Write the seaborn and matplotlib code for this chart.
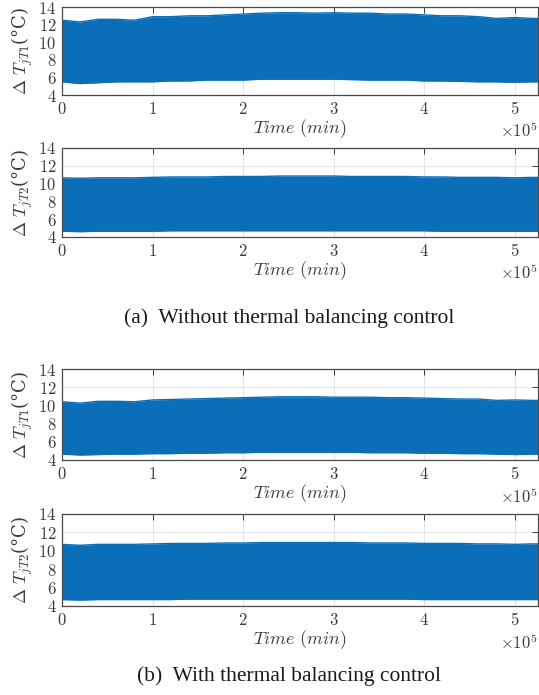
import numpy as np
import pandas as pd
import seaborn as sns
import matplotlib
matplotlib.use("Agg")
import matplotlib.pyplot as plt
from matplotlib.ticker import FuncFormatter, FixedLocator

# Time axis of the envelope samples (units of 1e5 minutes)
time_1e5 = [0.0, 0.2, 0.4, 0.6, 0.8, 1.0, 1.2, 1.4, 1.6, 1.8, 2.0, 2.2, 2.4, 2.6,
            2.8, 3.0, 3.2, 3.4, 3.6, 3.8, 4.0, 4.2, 4.4, 4.6, 4.8, 5.0, 5.2, 5.256]

# (a) without thermal balancing control
t1_a_upper = [12.5, 12.3, 12.6, 12.6, 12.5, 12.9, 12.9, 13.0, 13.0, 13.1, 13.2, 13.3, 13.35, 13.35,
              13.3, 13.35, 13.3, 13.3, 13.2, 13.2, 13.1, 13.0, 13.0, 12.9, 12.7, 12.8, 12.7, 12.7]
t1_a_lower = [5.5, 5.3, 5.4, 5.5, 5.5, 5.5, 5.6, 5.6, 5.7, 5.7, 5.7, 5.8, 5.8, 5.8,
              5.8, 5.8, 5.75, 5.7, 5.7, 5.7, 5.6, 5.6, 5.55, 5.5, 5.5, 5.45, 5.5, 5.5]
t2_a_upper = [10.65, 10.6, 10.65, 10.65, 10.65, 10.7, 10.75, 10.75, 10.75, 10.8, 10.8, 10.8, 10.85, 10.85,
              10.85, 10.85, 10.8, 10.8, 10.8, 10.8, 10.75, 10.75, 10.7, 10.7, 10.7, 10.65, 10.7, 10.7]
t2_a_lower = [4.65, 4.6, 4.65, 4.65, 4.65, 4.65, 4.7, 4.7, 4.7, 4.7, 4.7, 4.7, 4.7, 4.7,
              4.7, 4.7, 4.7, 4.7, 4.7, 4.7, 4.7, 4.65, 4.65, 4.65, 4.65, 4.65, 4.65, 4.65]

# (b) with thermal balancing control
t1_b_upper = [10.4, 10.25, 10.45, 10.45, 10.4, 10.6, 10.65, 10.7, 10.75, 10.8, 10.85, 10.9, 10.95, 10.95,
              10.95, 10.9, 10.9, 10.9, 10.85, 10.85, 10.8, 10.75, 10.7, 10.7, 10.55, 10.6, 10.55, 10.55]
t1_b_lower = [4.65, 4.55, 4.6, 4.65, 4.65, 4.7, 4.7, 4.75, 4.75, 4.8, 4.8, 4.85, 4.85, 4.85,
              4.85, 4.85, 4.85, 4.8, 4.8, 4.8, 4.75, 4.75, 4.7, 4.7, 4.65, 4.6, 4.65, 4.65]
t2_b_upper = [10.7, 10.6, 10.7, 10.7, 10.7, 10.75, 10.8, 10.8, 10.8, 10.85, 10.85, 10.9, 10.9, 10.9,
              10.9, 10.9, 10.9, 10.85, 10.85, 10.85, 10.8, 10.8, 10.8, 10.75, 10.75, 10.7, 10.75, 10.75]
t2_b_lower = [4.7, 4.65, 4.7, 4.7, 4.7, 4.7, 4.7, 4.75, 4.75, 4.75, 4.75, 4.75, 4.75, 4.75,
              4.75, 4.75, 4.75, 4.75, 4.75, 4.75, 4.7, 4.7, 4.7, 4.7, 4.7, 4.7, 4.7, 4.7]

x_ticks = [0, 1, 2, 3, 4, 5]
y_ticks = [4, 6, 8, 10, 12, 14]
x_max = 5.256
captions = ["(a)  Without thermal balancing control", "(b)  With thermal balancing control"]
y_labels = [r"$\Delta\ T_{jT1}$(°C)", r"$\Delta\ T_{jT2}$(°C)",
            r"$\Delta\ T_{jT1}$(°C)", r"$\Delta\ T_{jT2}$(°C)"]

sns.set_style("white")
plt.rcParams["mathtext.fontset"] = "cm"
plt.rcParams["font.family"] = ["DejaVu Serif"]

BLUE = "#0a6fb8"
GRAY = "#3c3c3c"
W, H = 539, 695
fig = plt.figure(figsize=(W / 100, H / 100), dpi=100)

# axes boxes in pixels: (top, bottom)
boxes = [(7, 95), (148, 237), (369, 460), (514, 606)]
panels = [(t1_a_upper, t1_a_lower), (t2_a_upper, t2_a_lower),
          (t1_b_upper, t1_b_lower), (t2_b_upper, t2_b_lower)]
left_px, right_px = 62, 538

fmt = FuncFormatter(lambda v, p: r"$%d$" % round(v))

for (top, bot), (up, lo), ylab in zip(boxes, panels, y_labels):
    ax = fig.add_axes([left_px / W, 1 - bot / H, (right_px - left_px) / W, (bot - top) / H])
    df = pd.DataFrame({"t": time_1e5, "upper": up, "lower": lo})
    ax.fill_between(df["t"], df["lower"], df["upper"], color=BLUE, lw=0, zorder=2)
    sns.lineplot(data=df, x="t", y="upper", ax=ax, color=BLUE, lw=1.0, zorder=3)
    sns.lineplot(data=df, x="t", y="lower", ax=ax, color=BLUE, lw=1.0, zorder=3)
    ax.set_xlim(0, x_max)
    ax.set_ylim(4, 14)
    ax.xaxis.set_major_locator(FixedLocator(x_ticks))
    ax.yaxis.set_major_locator(FixedLocator(y_ticks))
    ax.xaxis.set_major_formatter(fmt)
    ax.yaxis.set_major_formatter(fmt)
    ax.grid(True, color="#e3e3e3", lw=0.8, zorder=0)
    ax.set_axisbelow(True)
    ax.tick_params(direction="in", length=4, width=0.7, colors=GRAY, labelsize=12,
                   top=True, right=True, pad=4)
    for s in ax.spines.values():
        s.set_color("#4a4a4a")
        s.set_linewidth(0.9)
    ax.set_xlabel(r"$\mathit{Time\ (min)}$", fontsize=13, color=GRAY, labelpad=0)
    ax.set_ylabel(ylab, fontsize=13, color=GRAY, labelpad=2)
    ax.text(1.0, -0.30, r"$\times10^5$", transform=ax.transAxes, ha="right", va="top",
            fontsize=12, color=GRAY)

fig.text(289 / W, 1 - 318 / H, captions[0], ha="center", va="center",
         fontsize=15.5, family="Liberation Serif", color="#1a1a1a")
fig.text(289 / W, 1 - 676 / H, captions[1], ha="center", va="center",
         fontsize=15.5, family="Liberation Serif", color="#1a1a1a")

fig.savefig("out.png", dpi=100)
